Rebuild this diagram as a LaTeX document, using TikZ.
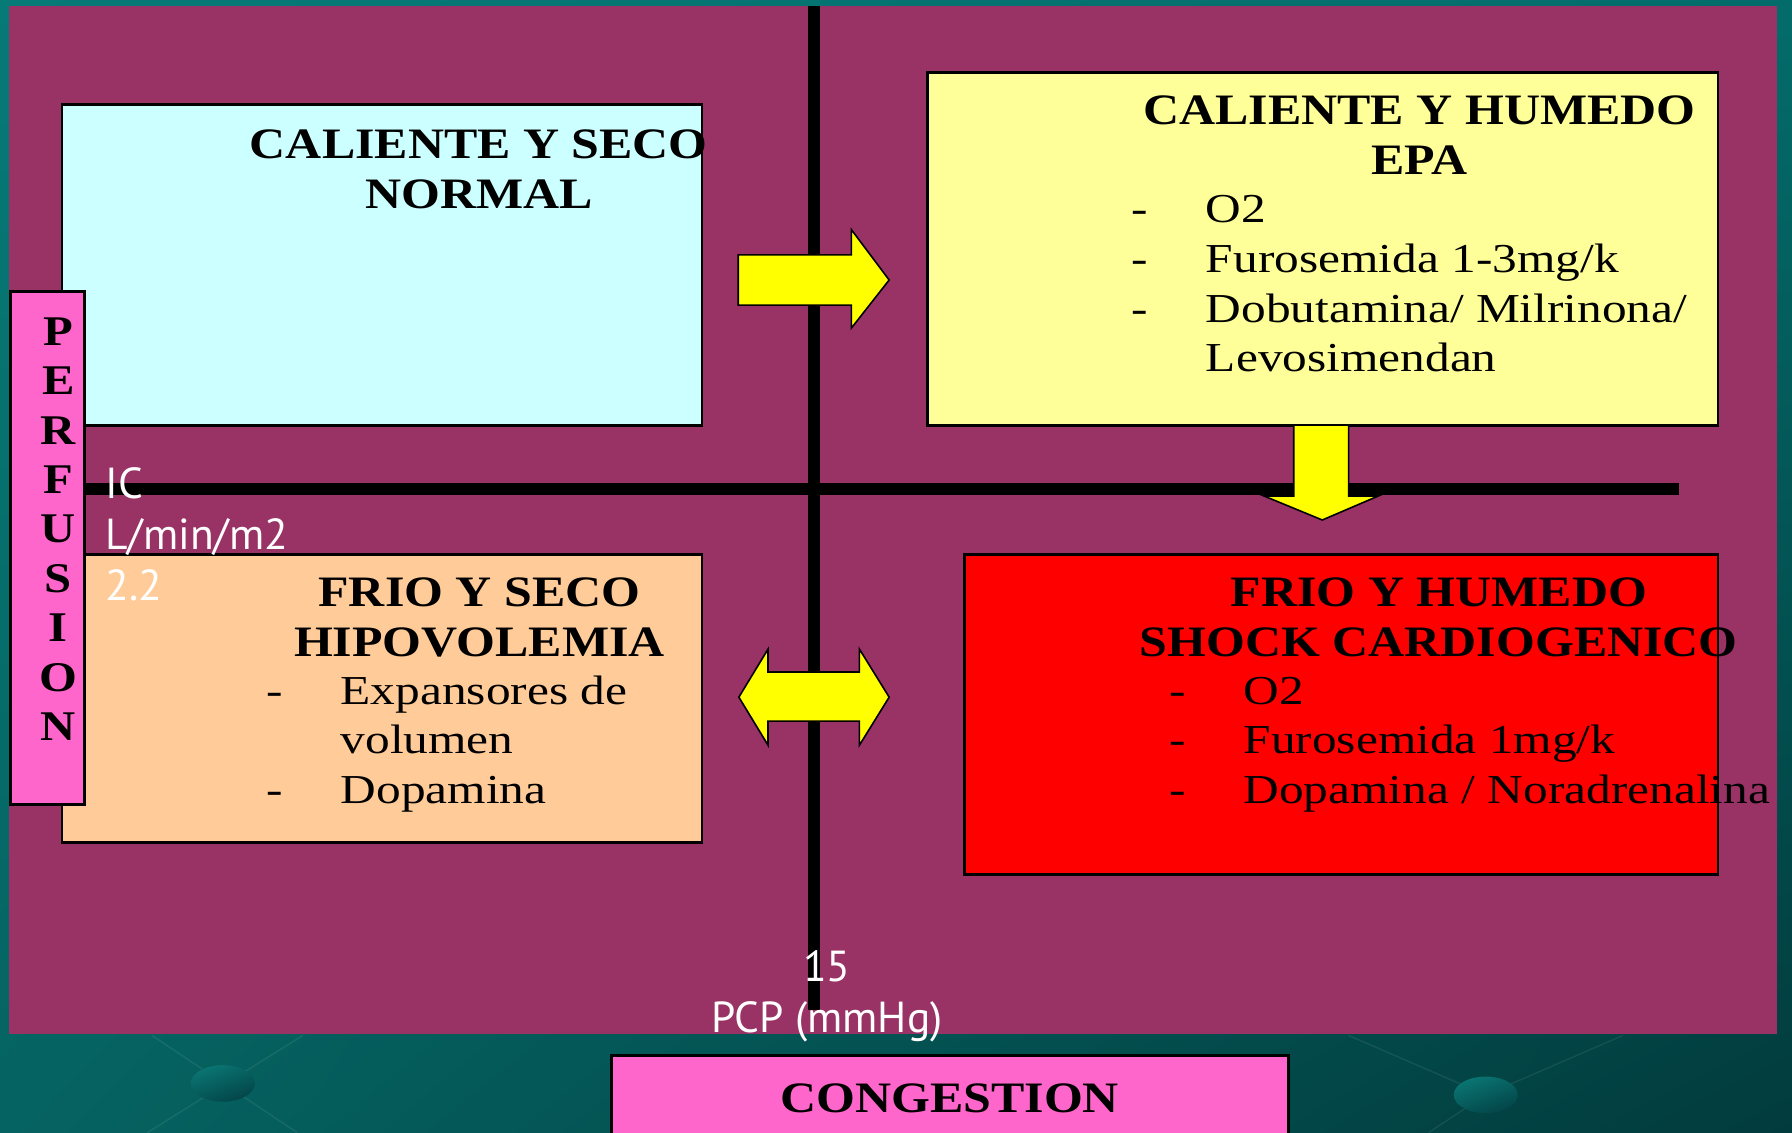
\documentclass[tikz,border=0pt]{standalone}
\usepackage{fontspec}
\usetikzlibrary{shadings}
\setmainfont{Liberation Serif}
\newfontfamily\titlefont{Liberation Serif}[FakeStretch=1.15]
\newfontfamily\bodyfont{Liberation Serif}[FakeStretch=1.2]
\newfontfamily\labelfont{PT Sans}
\definecolor{panelc}{HTML}{993366}
\definecolor{cyanfill}{HTML}{CCFFFF}
\definecolor{yellowfill}{HTML}{FFFF99}
\definecolor{orangefill}{HTML}{FFCC99}
\definecolor{redfill}{HTML}{FF0000}
\definecolor{pinkfill}{HTML}{FF66CC}
\definecolor{arrowyellow}{HTML}{FFFF00}
\definecolor{tealA}{HTML}{067A77}
\definecolor{tealB}{HTML}{036C6A}
\definecolor{tealC}{HTML}{056361}
\definecolor{tealD}{HTML}{023B3D}
\definecolor{sphL}{HTML}{0A7673}
\definecolor{sphD}{HTML}{034447}
\newcommand\dashcol{\makebox[65pt][l]{-}}
\tikzset{
  quad/.style={draw=black, line width=2.5pt, inner sep=0pt, anchor=north west},
  ttl/.style={font=\titlefont\bfseries\fontsize{38}{43.6}\selectfont, inner sep=0pt, anchor=base},
  lst/.style={font=\bodyfont\fontsize{36}{43.4}\selectfont, inner sep=0pt, anchor=base west},
  wlabel/.style={font=\labelfont\fontsize{38}{44.5}\selectfont, text=white, inner sep=0pt},
  blockarrow/.style={fill=arrowyellow, draw=black, line width=1.4pt, line join=miter},
  axisline/.style={draw=black, line width=10.5pt},
  faint/.style={draw=white, opacity=0.08, line width=1.2pt}
}
\begin{document}
\begin{tikzpicture}[x=1pt,y=-1pt]
\useasboundingbox (0,0) rectangle (1568,991);
% background
\shade[upper left=tealA, upper right=tealB, lower left=tealC, lower right=tealD] (0,0) rectangle (1568,991);
\draw[faint] (133,906) -- (260,991);
\draw[faint] (265,906) -- (129,991);
\draw[faint] (1180,906) -- (1300,958) -- (1420,906);
\draw[faint] (1300,958) -- (1250,991);
\shade[top color=sphL, bottom color=sphD, shading angle=20] (195,948) ellipse (28 and 16);
\shade[top color=sphL, bottom color=sphD, shading angle=20] (1300,958) ellipse (28 and 16);
% panel
\fill[panelc] (8,5) rectangle (1555,905);
% perfusion box
\node[quad, fill=pinkfill, minimum width=65pt, minimum height=449pt] (perf) at (8,254) {};
% axes
\coordinate (vtop) at (712,5);
\coordinate (vbot) at (712,884);
\coordinate (hend) at (1469,427.5);
\draw[axisline] (vtop) -- (vbot);
\draw[axisline] (perf.east |- hend) -- (hend);
% boxes
\node[quad, fill=cyanfill, minimum width=560pt, minimum height=281pt] (cyanbox) at (53,90) {};
\node[quad, fill=yellowfill, minimum width=692pt, minimum height=309pt] (yellowbox) at (810,62) {};
\node[quad, fill=orangefill, minimum width=560pt, minimum height=252pt] (orangebox) at (53,484) {};
\node[quad, fill=redfill, minimum width=659pt, minimum height=280pt] (redbox) at (843,484) {};
\node[quad, fill=pinkfill, minimum width=592pt, minimum height=75pt] (congbox) at (534,922) {};
% redraw perfusion box on top of orange/cyan boxes
\node[quad, fill=pinkfill, minimum width=65pt, minimum height=449pt] (perfb) at (8,254) {};
% block arrows
\draw[blockarrow] (646,223) -- (745,223) -- (745,201) -- (778,245) -- (745,287) -- (745,267) -- (646,267) -- cycle;
\draw[blockarrow] (1132,372) -- (1180,372) -- (1180,434) -- (1206,434) -- (1157,455) -- (1106,434) -- (1132,434) -- cycle;
\draw[blockarrow] (646.5,610) -- (672,568) -- (672,588) -- (752,588) -- (752,568) -- (778,610) -- (752,652) -- (752,631) -- (672,631) -- (672,652) -- cycle;
% titles
\node[ttl] (cyantitle) at (419,139) {\begin{tabular}[t]{@{}c@{}}CALIENTE Y SECO\\NORMAL\end{tabular}};
\node[ttl] (yellowtitle) at (1242,109) {\begin{tabular}[t]{@{}c@{}}CALIENTE Y HUMEDO\\EPA\end{tabular}};
\node[ttl] (orangetitle) at (419.5,531) {\begin{tabular}[t]{@{}c@{}}FRIO Y SECO\\HIPOVOLEMIA\end{tabular}};
\node[ttl] (redtitle) at (1259,531) {\begin{tabular}[t]{@{}c@{}}FRIO Y HUMEDO\\SHOCK CARDIOGENICO\end{tabular}};
% lists
\node[lst] (yellowlist) at (990,195) {\begin{tabular}[t]{@{}l@{}}\dashcol O2\\\dashcol Furosemida 1-3mg/k\\\dashcol Dobutamina/ Milrinona/\\\hspace*{65pt}Levosimendan\end{tabular}};
\node[lst] (orangelist) at (233,616) {\begin{tabular}[t]{@{}l@{}}\dashcol Expansores de\\\hspace*{65pt}volumen\\\dashcol Dopamina\end{tabular}};
\node[lst] (redlist) at (1023,616) {\begin{tabular}[t]{@{}l@{}}\dashcol O2\\\dashcol Furosemida 1mg/k\\\dashcol Dopamina / Noradrenalina\end{tabular}};
% axis titles
\node[ttl, font=\titlefont\bfseries\fontsize{37}{43.25}\selectfont] (perftext) at (51,302) {\begin{tabular}[t]{@{}c@{}}P\\E\\R\\F\\U\\S\\I\\O\\N\end{tabular}};
\node[ttl] (congtext) at (831,973) {CONGESTION};
% white labels
\node[wlabel, anchor=base west] (iclabel) at (92,436) {\begin{tabular}[t]{@{}l@{}}IC\\L/min/m2\\2.2\end{tabular}};
\node[wlabel, anchor=base] (pcplabel) at (723.5,859) {\begin{tabular}[t]{@{}c@{}}15\\PCP (mmHg)\end{tabular}};
\end{tikzpicture}
\end{document}
